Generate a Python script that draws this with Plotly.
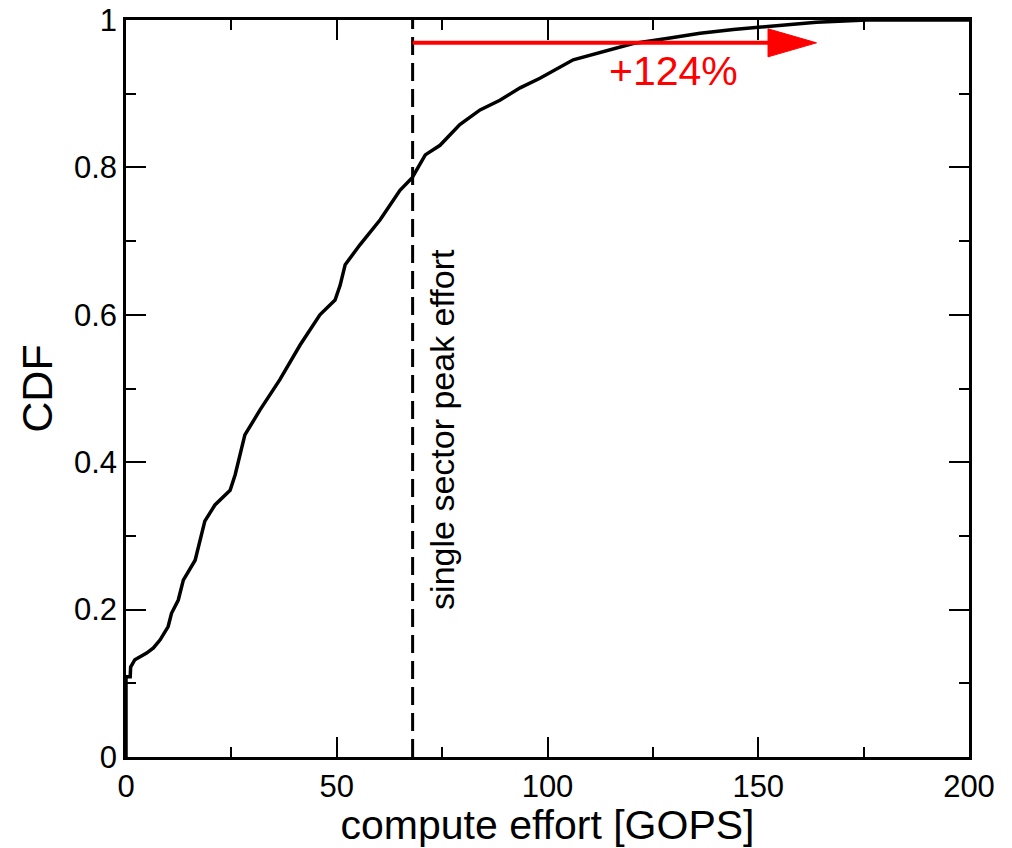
import plotly.graph_objects as go

effort_gops = [0, 0, 1.0, 1.1, 2.1, 4.9, 6.5, 8.1, 10.0, 10.8, 12.4, 13.6, 16.4,
               17.6, 18.7, 21.1, 24.7, 25.9, 27.0, 28.2, 31.8, 36.5, 41.3, 46.0,
               49.6, 50.8, 52.0, 55.5, 60.3, 65.0, 67.9, 71.0, 74.5, 79.2, 84.0,
               88.7, 93.5, 98.2, 106.1, 110.8, 120.3, 128.3, 136.2, 144.1, 152.0,
               163.8, 175.7, 200]
cdf = [0, 0.109, 0.109, 0.122, 0.132, 0.141, 0.148, 0.159, 0.177, 0.195, 0.213,
       0.240, 0.267, 0.294, 0.320, 0.342, 0.362, 0.383, 0.410, 0.437, 0.471,
       0.512, 0.559, 0.600, 0.620, 0.640, 0.668, 0.695, 0.729, 0.769, 0.786,
       0.817, 0.830, 0.858, 0.878, 0.891, 0.908, 0.921, 0.946, 0.953, 0.968,
       0.975, 0.982, 0.987, 0.991, 0.997, 1.0, 1.0]

x_ticks = [0, 50, 100, 150, 200]
y_ticks = [0, 0.2, 0.4, 0.6, 0.8, 1]
y_tick_labels = ["0", "0.2", "0.4", "0.6", "0.8", "1"]

peak_effort = 68        # single sector peak effort [GOPS]
gain_pct = 124          # extra effort needed for the tail
arrow_y = 0.969

FONT = "Liberation Sans, Arial, sans-serif"
RED = "#ff0000"

arrow_end = peak_effort * (1 + gain_pct / 100)
head_len = 11.5         # x units
head_half = 0.019       # y units

fig = go.Figure()

fig.add_trace(go.Scatter(
    x=effort_gops, y=cdf, mode="lines",
    line=dict(color="black", width=3.5),
    showlegend=False, hoverinfo="skip",
))

# dashed marker of the single sector peak
fig.add_shape(type="line", xref="x", yref="y",
              x0=peak_effort, x1=peak_effort, y0=0, y1=1,
              line=dict(color="black", width=3, dash="18px,8px"))

# red arrow: shaft + head
fig.add_shape(type="line", xref="x", yref="y",
              x0=peak_effort, x1=arrow_end, y0=arrow_y, y1=arrow_y,
              line=dict(color=RED, width=4))
fig.add_shape(type="path", xref="x", yref="y",
              path=(f"M{arrow_end},{arrow_y - head_half} "
                    f"L{arrow_end + head_len},{arrow_y} "
                    f"L{arrow_end},{arrow_y + head_half} Z"),
              fillcolor=RED, line=dict(color=RED, width=1))

fig.add_annotation(x=130, y=0.931, xref="x", yref="y",
                   text=f"+{gain_pct}%", showarrow=False,
                   font=dict(family=FONT, size=41, color=RED))

fig.add_annotation(x=75, y=0.444, xref="x", yref="y",
                   text="single sector peak effort", textangle=-90,
                   showarrow=False,
                   font=dict(family=FONT, size=34, color="black"))

axis_common = dict(
    showline=True, linecolor="black", linewidth=2.5, mirror="allticks",
    ticks="inside", ticklen=20, tickwidth=1.5, tickcolor="black",
    showgrid=False, zeroline=False, automargin=False,
    tickfont=dict(family=FONT, size=31, color="black"),
)

fig.update_xaxes(
    range=[0, 200], tickvals=x_ticks,
    minor=dict(dtick=25, ticks="inside", ticklen=10, tickwidth=1.5,
               tickcolor="black", showgrid=False),
    title=dict(text="compute effort [GOPS]", standoff=3,
               font=dict(family=FONT, size=41, color="black")),
    **axis_common,
)
fig.update_yaxes(
    range=[0, 1], tickvals=y_ticks, ticktext=y_tick_labels,
    minor=dict(dtick=0.1, ticks="inside", ticklen=10, tickwidth=1.5,
               tickcolor="black", showgrid=False),
    title=dict(text="CDF", standoff=8,
               font=dict(family=FONT, size=43, color="black")),
    **axis_common,
)

fig.update_layout(
    width=1012, height=848,
    margin=dict(l=126, r=43, t=20, b=91),
    plot_bgcolor="white", paper_bgcolor="white",
    font=dict(family=FONT, color="black"),
)

# drop the default body margin so the figure fills the window exactly
fig.write_html("out.html", config={"displayModeBar": False},
               post_script="document.body.style.margin = '0';")
